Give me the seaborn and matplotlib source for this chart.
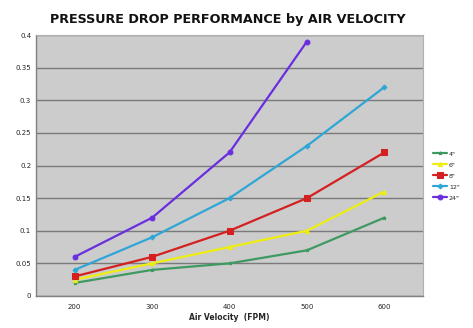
import matplotlib
matplotlib.use("Agg")
import matplotlib.pyplot as plt
import seaborn as sns
import pandas as pd
import numpy as np

velocity = [200, 300, 400, 500, 600]
sizes = ['4"', '6"', '8"', '12"', '24"']
drop_4 = [0.02, 0.04, 0.05, 0.07, 0.12]
drop_6 = [0.025, 0.05, 0.075, 0.10, 0.16]
drop_8 = [0.03, 0.06, 0.10, 0.15, 0.22]
drop_12 = [0.04, 0.09, 0.15, 0.23, 0.32]
drop_24 = [0.06, 0.12, 0.22, 0.39, None]
yticks = [0, 0.05, 0.1, 0.15, 0.2, 0.25, 0.3, 0.35, 0.4]
ytick_labels = ["0", "0.05", "0.1", "0.15", "0.2", "0.25", "0.3", "0.35", "0.4"]

series = [drop_4, drop_6, drop_8, drop_12, drop_24]
rows = []
for name, vals in zip(sizes, series):
    for i, (v, d) in enumerate(zip(velocity, vals)):
        if d is not None:
            rows.append({"pos": i, "velocity": v, "drop": d, "size": name})
df = pd.DataFrame(rows)

sns.set_style("white")
plt.rcParams['font.family'] = ['DejaVu Sans']

colors = {'4"': "#3f9a62", '6"': "#eeee10", '8"': "#d42020",
          '12"': "#2fa6d6", '24"': "#6a2ee0"}
markers = {'4"': "*", '6"': "^", '8"': "s", '12"': "D", '24"': "o"}
msizes = {'4"': 2.5, '6"': 3, '8"': 4.5, '12"': 2.5, '24"': 3.5}

fig = plt.figure(figsize=(4.73, 3.28), dpi=100)
ax = fig.add_axes([36 / 473, 1 - 296 / 328, (423 - 36) / 473, (296 - 35) / 328])
ax.set_facecolor("#cccccc")

for name in sizes:
    sub = df[df["size"] == name]
    sns.lineplot(data=sub, x="pos", y="drop", ax=ax, color=colors[name],
                 marker=markers[name], markersize=msizes[name],
                 markeredgecolor=colors[name], linewidth=1.6, label=name)

ax.set_xlim(-0.5, 4.5)
ax.set_ylim(0, 0.4)
ax.set_yticks(yticks)
ax.set_yticklabels(ytick_labels)
ax.set_xticks(range(len(velocity)))
ax.set_xticklabels([str(v) for v in velocity])
ax.set_xticks(np.arange(-0.5, 4.6, 1.0), minor=True)
ax.tick_params(axis="x", which="major", length=0, labelsize=5, pad=6)
ax.tick_params(axis="x", which="minor", length=2.5, color="#808080", width=0.8)
ax.tick_params(axis="y", which="major", length=2.5, color="#808080",
               width=0.8, labelsize=5, pad=1)
ax.grid(axis="y", color="#7a7a7a", linewidth=1.0)
ax.set_axisbelow(True)
for side in ["top", "right"]:
    ax.spines[side].set_color("#b0b0b0")
    ax.spines[side].set_linewidth(0.8)
for side in ["left", "bottom"]:
    ax.spines[side].set_color("#808080")
    ax.spines[side].set_linewidth(1.0)

ax.set_xlabel("Air Velocity  (FPM)", fontsize=5.5, fontweight="bold", labelpad=2)
ax.set_ylabel("")
fig.suptitle("PRESSURE DROP PERFORMANCE by AIR VELOCITY", fontsize=9.2,
             fontweight="bold", color="#111111", x=228 / 473, y=1 - 20 / 328,
             va="center")

leg = ax.legend(loc="center left", bbox_to_anchor=(1.02, 0.46), frameon=False,
                fontsize=4.5, handlelength=2.2, labelspacing=0.9,
                handletextpad=0.3, borderaxespad=0)

fig.savefig("out.png", dpi=100)
